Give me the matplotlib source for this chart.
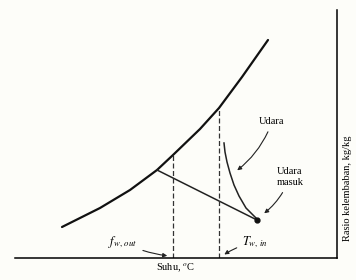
import matplotlib.pyplot as plt

plt.rcParams['font.family'] = ['Liberation Serif', 'DejaVu Serif']
plt.rcParams['mathtext.fontset'] = 'stix'

# saturation curve (arbitrary units)
sat_x = [47, 85, 115, 142, 158, 185, 204, 227, 253]
sat_y = [31, 50, 68, 88, 103, 129, 150, 181, 218]

# air path from inlet point to the saturation curve
air_x = [209, 210, 212, 215, 219, 224, 231, 242]
air_y = [115, 106, 96, 85, 73, 62, 50, 39]

# straight line from curve to inlet point
line_x = [142, 242]
line_y = [88, 38]

# dashed temperature markers
t_out_x, t_out_top = 158, 103
t_in_x, t_in_top = 204, 150

fig = plt.figure(figsize=(3.56, 2.80), dpi=100)
fig.patch.set_facecolor('#fdfdf9')
ax = fig.add_axes([15 / 356, 22 / 280, 322 / 356, 248 / 280])
ax.set_facecolor('#fdfdf9')
ax.set_xlim(0, 322)
ax.set_ylim(0, 248)

ax.plot(sat_x, sat_y, color='#111111', lw=1.6, solid_capstyle='round')
ax.plot(air_x, air_y, color='#222222', lw=1.1)
ax.plot(line_x, line_y, color='#222222', lw=1.1)
ax.plot([line_x[1]], [line_y[1]], 'o', color='#111111', ms=3.5)
ax.plot([t_out_x, t_out_x], [0, t_out_top], color='#333333', lw=0.9, ls=(0, (4, 2)))
ax.plot([t_in_x, t_in_x], [0, t_in_top], color='#333333', lw=0.9, ls=(0, (4, 2)))

for s in ['left', 'top']:
    ax.spines[s].set_visible(False)
ax.spines['bottom'].set_linewidth(1.1)
ax.spines['right'].set_linewidth(1.1)
ax.set_xticks([])
ax.set_yticks([])

ax.set_xlabel('Suhu, $^o$C', fontsize=7.5, labelpad=2)
ax.yaxis.set_label_position('right')
ax.set_ylabel('Rasio kelembaban, kg/kg', fontsize=7.5, labelpad=4)
ax.yaxis.label.set_position((1, 0.28))

arr = dict(arrowstyle='-|>', color='#222222', lw=0.8, mutation_scale=6)
ax.annotate('Udara', xy=(220, 86), xytext=(257, 136), fontsize=7.5, ha='center', va='center',
            arrowprops=dict(arr, connectionstyle='arc3,rad=-0.15'))
ax.annotate('Udara\nmasuk', xy=(247, 43), xytext=(275, 81), fontsize=7.5, ha='center', va='center',
            linespacing=1.4, arrowprops=dict(arr, connectionstyle='arc3,rad=-0.15'))
ax.annotate('$f_{w,\\,out}$', xy=(155, 2), xytext=(108, 16), fontsize=9, ha='center', va='center',
            arrowprops=dict(arr, connectionstyle='arc3,rad=0.1'))
ax.annotate('$T_{w,\\,in}$', xy=(207, 2), xytext=(240, 16), fontsize=9, ha='center', va='center',
            arrowprops=dict(arr, connectionstyle='arc3,rad=0.1'))

fig.savefig('out.png', dpi=100, facecolor=fig.get_facecolor())
